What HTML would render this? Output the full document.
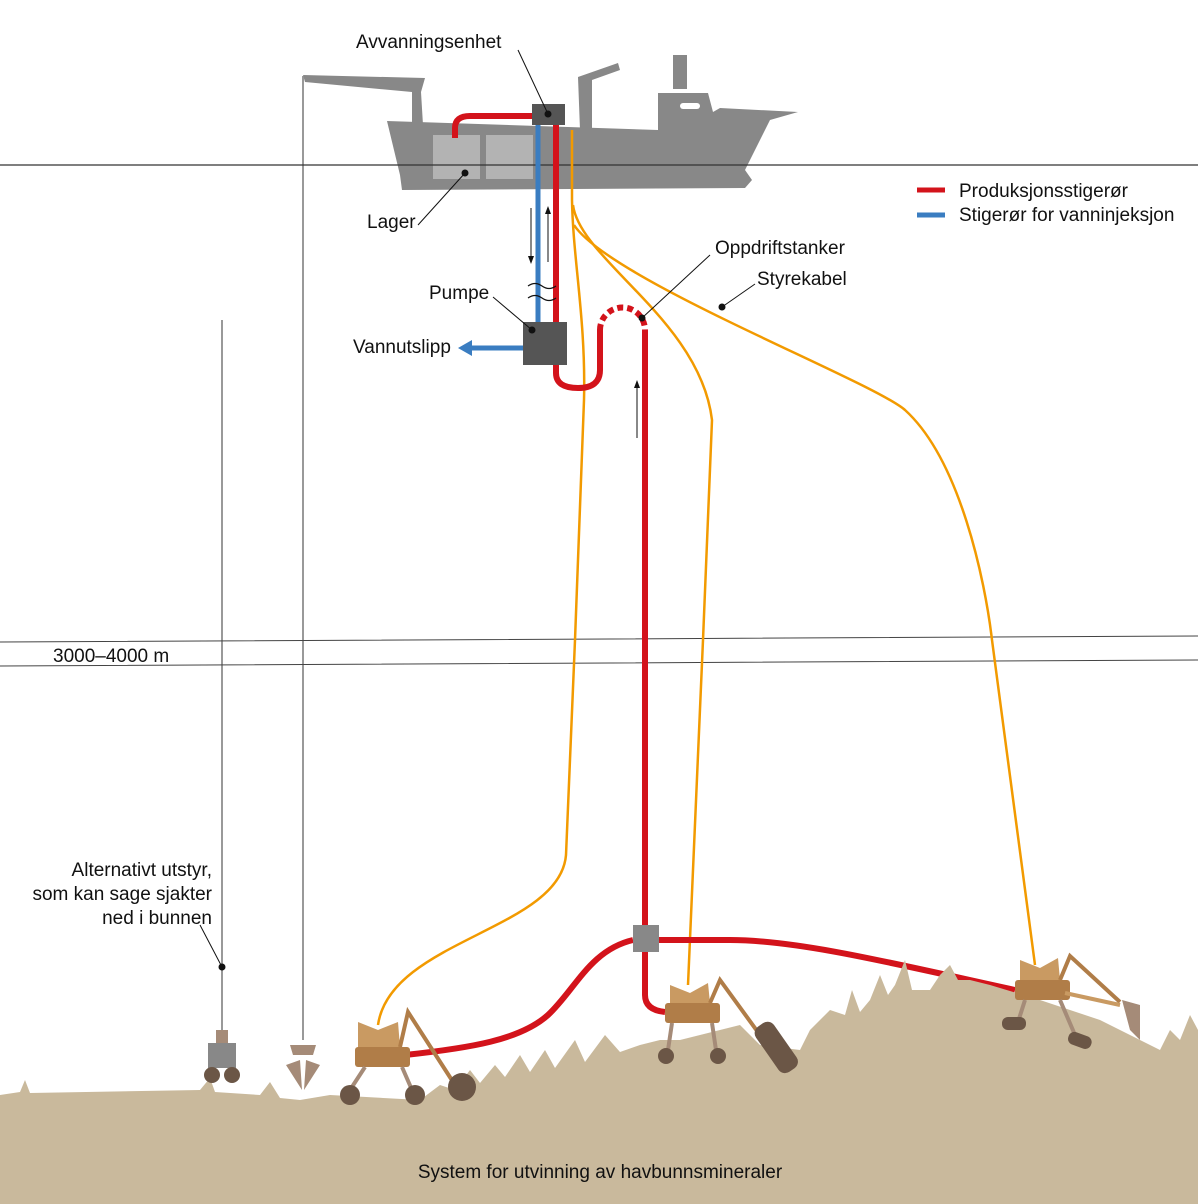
<!DOCTYPE html>
<html><head><meta charset="utf-8"><style>
html,body{margin:0;padding:0;background:#fff;}
svg{display:block;font-family:"Liberation Sans",sans-serif;}
text{font-size:19px;fill:#111;}
</style></head><body>
<svg width="1198" height="1204" viewBox="0 0 1198 1204" xmlns="http://www.w3.org/2000/svg">
<defs>
<marker id="ah" markerWidth="8" markerHeight="8" refX="4" refY="4" orient="auto"><path d="M0,1 L8,4 L0,7 z" fill="#111"/></marker>
</defs>
<line x1="303" y1="76" x2="303" y2="1040" stroke="#999" stroke-width="2"/>
<line x1="222" y1="320" x2="222" y2="1030" stroke="#999" stroke-width="2"/>
<g fill="#888">
<path d="M387,121 L658,130 L658,93 L708,93 L713,112 L720,108 L798,112 L770,120 L745,170 L752,180 L745,188 L402,190 L400,175 Z"/>
<rect x="673" y="55" width="14" height="34"/>
<path d="M303,75 L425,78 L421,92 L423,125 L412,125 L412,92 L305,82 Z"/>
<path d="M578,77 L618,63 L620,70 L592,80 L592,130 L580,130 Z"/>
</g>
<rect x="680" y="103" width="20" height="6" rx="3" fill="#fff"/>
<rect x="433" y="135" width="47" height="44" fill="#b3b3b3"/>
<rect x="486" y="135" width="47" height="44" fill="#b3b3b3"/>
<line x1="0" y1="165" x2="1198" y2="165" stroke="#333" stroke-width="1.3"/>
<path d="M0,642 L1198,636 M0,666 L1198,660" stroke="#444" stroke-width="1" fill="none"/>
<g fill="none" stroke="#f29a00" stroke-width="2.5">
<path d="M572,130 L572,200 C573,260 586,320 584,400 L575,640 L566,855 C560,930 390,940 378,1025"/>
<path d="M573,205 C580,260 700,320 712,420 L703,640 L688,985"/>
<path d="M574,225 C610,280 870,380 905,410 C960,460 985,580 992,640 L1035,965"/>
</g>
<line x1="538" y1="125" x2="538" y2="322" stroke="#3a7dc1" stroke-width="5"/>
<line x1="523" y1="348" x2="470" y2="348" stroke="#3a7dc1" stroke-width="5"/>
<path d="M458,348 L472,340 L472,356 Z" fill="#3a7dc1"/>
<g fill="none" stroke="#d3131b" stroke-width="6">
<path d="M455,138 L455,128 Q455,116 470,116 L533,116"/>
<path d="M556,125 L556,373 Q556,388 578,388 Q600,388 600,370 L600,330"/>
<path d="M600,330 A22,22 0 0 1 645,330" stroke-dasharray="6,4"/>
<path d="M645,330 L645,995 Q645,1010 665,1012"/>
<path d="M633,940 C590,950 575,990 548,1015 C520,1040 470,1048 405,1055"/>
<path d="M659,940 L730,940 C800,940 900,965 1015,990"/>
</g>
<rect x="532" y="104" width="33" height="21" fill="#555"/>
<rect x="523" y="322" width="44" height="43" fill="#555"/>
<rect x="633" y="925" width="26" height="27" fill="#888"/>
<path d="M528,286 q7,-5 14,0 t14,0 M528,298 q7,-5 14,0 t14,0" stroke="#111" fill="none" stroke-width="1.2"/>
<g stroke="#111" stroke-width="1">
<line x1="531" y1="208" x2="531" y2="260" marker-end="url(#ah)"/>
<line x1="548" y1="262" x2="548" y2="210" marker-end="url(#ah)"/>
<line x1="637" y1="438" x2="637" y2="384" marker-end="url(#ah)"/>
</g>
<path d="M0,1095 L20,1092 L25,1080 L30,1093 L200,1090 L210,1078 L215,1092 L260,1095 L270,1082 L280,1098 L300,1100 L330,1095 L420,1100 L440,1085 L455,1090 L470,1070 L480,1083 L495,1065 L505,1077 L520,1055 L530,1072 L545,1050 L555,1068 L575,1040 L585,1062 L605,1035 L620,1052 L640,1045 L660,1040 L680,1040 L700,1035 L720,1030 L740,1025 L760,1045 L800,1050 L810,1030 L820,1020 L830,1010 L845,1015 L852,990 L860,1012 L870,1000 L880,975 L888,995 L895,985 L905,960 L912,990 L930,990 L940,975 L950,965 L958,980 L970,980 L990,985 L1040,1000 L1100,1020 L1140,1040 L1160,1050 L1170,1030 L1180,1040 L1190,1015 L1198,1030 L1198,1204 L0,1204 Z" fill="#c9b99c"/>
<g>
<rect x="216" y="1030" width="12" height="13" fill="#a58b78"/>
<rect x="208" y="1043" width="28" height="25" fill="#888"/>
<circle cx="212" cy="1075" r="8" fill="#6b5646"/><circle cx="232" cy="1075" r="8" fill="#6b5646"/>
<path d="M290,1045 L316,1045 L313,1055 L293,1055 Z M286,1065 L300,1060 L302,1090 Z M320,1065 L306,1060 L304,1090 Z" fill="#a58b78"/>
<path d="M358,1022 L378,1030 L398,1022 L400,1047 L358,1047 Z" fill="#c99a62"/>
<rect x="355" y="1047" width="55" height="20" rx="3" fill="#b07d48"/>
<path d="M400,1047 L408,1012 L455,1085" stroke="#b07d48" stroke-width="4" fill="none"/>
<path d="M365,1067 L350,1090 M402,1067 L412,1090" stroke="#a58b78" stroke-width="4"/>
<circle cx="350" cy="1095" r="10" fill="#6b5646"/><circle cx="415" cy="1095" r="10" fill="#6b5646"/>
<circle cx="462" cy="1087" r="14" fill="#6b5646"/>
<path d="M670,985 L690,993 L708,983 L710,1003 L670,1003 Z" fill="#c99a62"/>
<rect x="665" y="1003" width="55" height="20" rx="3" fill="#b07d48"/>
<path d="M710,1003 L720,980 L760,1035" stroke="#b07d48" stroke-width="4" fill="none"/>
<path d="M672,1023 L668,1050 M712,1023 L716,1050" stroke="#a58b78" stroke-width="4"/>
<circle cx="666" cy="1056" r="8" fill="#6b5646"/><circle cx="718" cy="1056" r="8" fill="#6b5646"/>
<rect x="765" y="1020" width="22" height="55" rx="8" transform="rotate(-35 776 1047)" fill="#6b5646"/>
<path d="M1020,960 L1040,968 L1058,958 L1060,980 L1020,980 Z" fill="#c99a62"/>
<rect x="1015" y="980" width="55" height="20" rx="3" fill="#b07d48"/>
<path d="M1060,980 L1070,956 L1120,1002" stroke="#b07d48" stroke-width="4" fill="none"/>
<path d="M1065,993 L1120,1005" stroke="#c99a62" stroke-width="4"/>
<path d="M1025,1000 L1018,1022 M1060,1000 L1075,1035" stroke="#a58b78" stroke-width="4"/>
<rect x="1002" y="1017" width="24" height="13" rx="6" fill="#6b5646"/>
<rect x="1068" y="1034" width="24" height="13" rx="6" fill="#6b5646" transform="rotate(20 1080 1040)"/>
<path d="M1122,1000 L1140,1005 L1140,1040 L1130,1030 Z" fill="#a58b78"/>
</g>
<g stroke="#111" stroke-width="1">
<line x1="518" y1="50" x2="548" y2="114"/>
<line x1="418" y1="225" x2="465" y2="173"/>
<line x1="493" y1="297" x2="532" y2="330"/>
<line x1="710" y1="255" x2="642" y2="318"/>
<line x1="755" y1="284" x2="722" y2="307"/>
<line x1="200" y1="925" x2="222" y2="967"/>
</g>
<g fill="#111">
<circle cx="548" cy="114" r="3.5"/><circle cx="465" cy="173" r="3.5"/><circle cx="532" cy="330" r="3.5"/>
<circle cx="642" cy="318" r="3.5"/><circle cx="722" cy="307" r="3.5"/><circle cx="222" cy="967" r="3.5"/>
</g>
<line x1="917" y1="190" x2="945" y2="190" stroke="#d3131b" stroke-width="5"/>
<line x1="917" y1="215" x2="945" y2="215" stroke="#3a7dc1" stroke-width="5"/>
<text x="959" y="197">Produksjonsstigerør</text>
<text x="959" y="221">Stigerør for vanninjeksjon</text>
<text x="356" y="48">Avvanningsenhet</text>
<text x="367" y="228">Lager</text>
<text x="429" y="299">Pumpe</text>
<text x="353" y="353">Vannutslipp</text>
<text x="715" y="254">Oppdriftstanker</text>
<text x="757" y="285">Styrekabel</text>
<text x="53" y="662">3000–4000 m</text>
<text x="212" y="876" text-anchor="end">Alternativt utstyr,</text>
<text x="212" y="900" text-anchor="end">som kan sage sjakter</text>
<text x="212" y="924" text-anchor="end">ned i bunnen</text>
<text x="600" y="1178" text-anchor="middle">System for utvinning av havbunnsmineraler</text>
</svg>
</body></html>
